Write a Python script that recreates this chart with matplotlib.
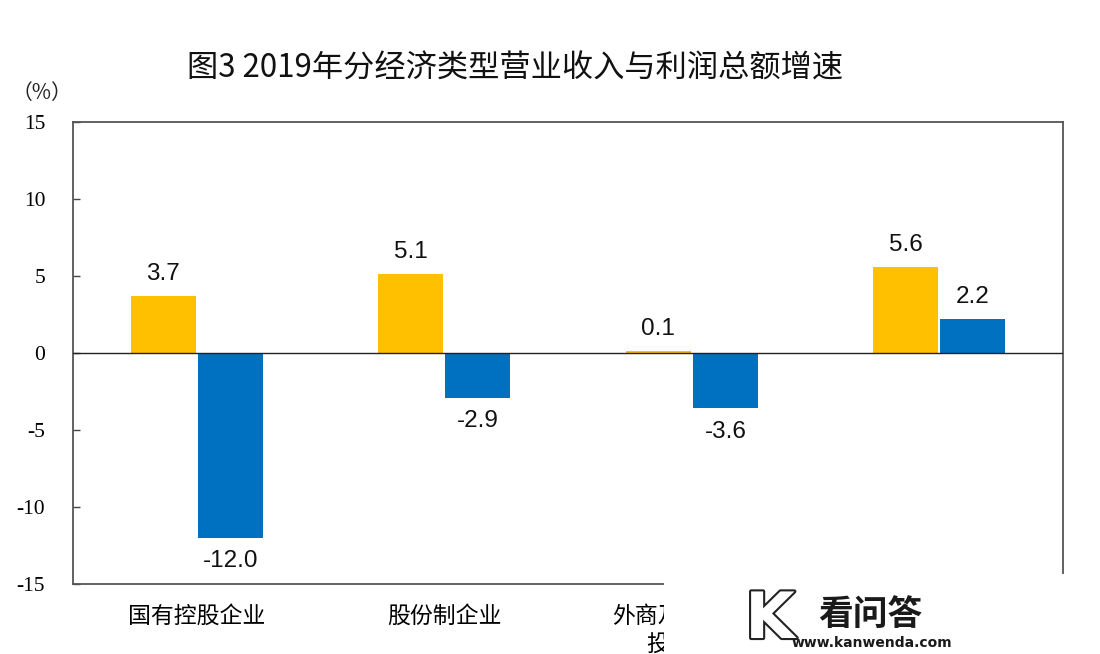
import matplotlib
matplotlib.use("Agg")
import matplotlib.pyplot as plt
import matplotlib.patheffects as pe
from matplotlib.patches import Rectangle
import numpy as np

plt.rcParams['font.family'] = ['Noto Sans CJK SC', 'DejaVu Sans']

title = "图3 2019年分经济类型营业收入与利润总额增速"
categories = ["国有控股企业", "股份制企业", "外商及港澳台商\n投资企业", "私营企业"]
revenue_growth = [3.7, 5.1, 0.1, 5.6]
profit_growth = [-12.0, -2.9, -3.6, 2.2]
yticks = [15, 10, 5, 0, -5, -10, -15]

c_rev = "#FFC000"
c_pro = "#0070C0"

fig = plt.figure(figsize=(11, 6.54), dpi=100)
ax = fig.add_axes([73/1100, 1-584/654, 990/1100, 462/654])

x = np.arange(len(categories))
w = 0.262
off = 0.136
b1 = ax.bar(x - off, revenue_growth, w, color=c_rev, zorder=2)
b2 = ax.bar(x + off, profit_growth, w, color=c_pro, zorder=2)

ax.set_xlim(-0.5, len(categories) - 0.5)
ax.set_ylim(-15, 15)
ax.axhline(0, color="#222222", lw=1.0, zorder=3)

for bars, vals in ((b1, revenue_growth), (b2, profit_growth)):
    for b, v in zip(bars, vals):
        cx = b.get_x() + b.get_width() / 2
        if v >= 0:
            ax.annotate(f"{v:.1f}", (cx, v), xytext=(0, 8), textcoords="offset points",
                        ha="center", va="bottom", fontsize=17.5, family="Liberation Sans",
                        color="#111111")
        else:
            ax.annotate(f"{v:.1f}", (cx, v), xytext=(0, -9), textcoords="offset points",
                        ha="center", va="top", fontsize=17.5, family="Liberation Sans",
                        color="#111111")

ax.set_yticks(yticks)
ax.set_yticklabels([str(t) for t in yticks], family="Liberation Serif", fontsize=15.5)
ax.tick_params(axis="y", direction="in", length=5, pad=20, color="#444444", width=1)
ax.set_xticks(x)
ax.set_xticklabels(categories, fontsize=16.5, linespacing=1.25, va="top")
ax.tick_params(axis="x", length=0, pad=15)
for s in ax.spines.values():
    s.set_color("#555555")
    s.set_linewidth(1.3)

fig.text(515/1100, 1-68/654, title, ha="center", va="center", fontsize=22.5, color="#111111")
fig.text(42/1100, 1-93/654, "（%）", ha="center", va="center", fontsize=15, color="#222222")

# watermark overlay (covers part of the axis, as in the reference)
fig.patches.append(Rectangle((664/1100, 0), 1 - 664/1100, 80/654, transform=fig.transFigure,
                             facecolor="white", edgecolor="none", zorder=10))
fig.text(770/1100, 1-620/654, "K", ha="center", va="center", fontsize=46, fontweight="bold",
         family="DejaVu Sans", color="white", zorder=11,
         path_effects=[pe.withStroke(linewidth=3, foreground="#222222")])
fig.text(870/1100, 1-614/654, "看问答", ha="center", va="center", fontsize=25, fontweight="bold",
         color="#1a1a1a", zorder=11)
fig.text(872/1100, 1-643/654, "www.kanwenda.com", ha="center", va="center", fontsize=10,
         fontweight="bold", family="DejaVu Sans", color="#1a1a1a", zorder=11)

fig.savefig("out.png", dpi=100)
